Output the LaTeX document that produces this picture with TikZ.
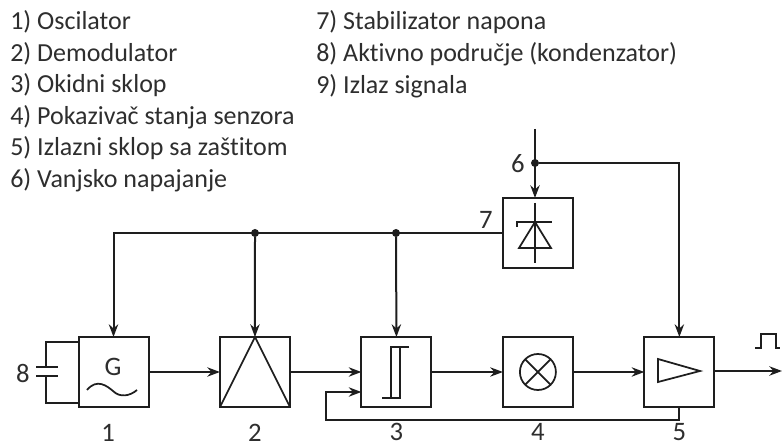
\documentclass[tikz,border=0pt]{standalone}
\usepackage{fontspec}
\setmainfont[Ligatures=NoCommon]{Carlito}
\usepackage{xcolor}
\usetikzlibrary{arrows.meta, positioning, calc}
\definecolor{ink}{HTML}{1E1E1E}
\definecolor{txt}{HTML}{2E2E2E}
\tikzset{
  block/.style={rectangle, draw=ink, line width=1.5pt, fill=white, minimum size=52.5pt, inner sep=0pt, outer sep=0pt},
  legend/.style={anchor=west, inner sep=0pt, text=txt, font=\fontsize{19.5pt}{20pt}\selectfont},
  num/.style={inner sep=0pt, text=txt, font=\fontsize{20pt}{21pt}\selectfont},
  dot/.style={circle, fill=ink, minimum size=6pt, inner sep=0pt, outer sep=0pt},
  wire/.style={draw=ink, line width=1.5pt},
  sym/.style={draw=ink, line width=1.3pt},
  arrow/.style={wire, -{Stealth[length=9.5pt, width=7pt]}}
}
\begin{document}
\begin{tikzpicture}[x=0.75pt, y=-0.75pt, node distance=31.6*0.75pt and 53.6pt]
  \useasboundingbox[fill=white] (0,0) rectangle (782,445);
  % legend
  \node[legend] (l1) at (10,22) {1) Oscilator};
  \node[legend] (l2) at (10,53.5) {2) Demodulator};
  \node[legend] (l3) at (10,85) {3) Okidni sklop};
  \node[legend] (l4) at (10,117) {4) Pokazivač stanja senzora};
  \node[legend] (l5) at (10,148.5) {5) Izlazni sklop sa zaštitom};
  \node[legend] (l6) at (10,180) {6) Vanjsko napajanje};
  \node[legend] (l7) at (316,22) {7) Stabilizator napona};
  \node[legend] (l8) at (316,54) {8) Aktivno područje (kondenzator)};
  \node[legend] (l9) at (316,86) {9) Izlaz signala};

  % blocks
  \node[block] (osc) at (113.5,372) {};
  \node[block, right=of osc] (demod) {};
  \node[block, right=of demod] (trig) {};
  \node[block, right=of trig] (ind) {};
  \node[block, right=of ind] (outp) {};
  \node[block] (stab) at (538,233) {};

  \node[num, below=12.5pt of osc, xshift=-4pt] (n1) {1};
  \node[num, below=12.5pt of demod] (n2) {2};
  \node[num, below=12pt of trig] (n3) {3};
  \node[num, below=12pt of ind] (n4) {4};
  \node[num, below=12pt of outp] (n5) {5};
  \node[num] (n6) at (518,164) {6};
  \node[num] (n7) at (486,220) {7};
  \node[num] (n8) at (23,373) {8};

  % power rail
  \coordinate (in6) at (535,129);
  \node[dot] (d6) at (535,163) {};
  \node[dot] (d2) at (255,233) {};
  \node[dot] (d3) at (396,233) {};
  \draw[arrow] (in6) -- (in6 |- stab.north);
  \draw[arrow] (d6) -| (outp.north);
  \draw[arrow] (stab.west) -| (osc.north);
  \draw[arrow] (d2) -- (demod.north);
  \draw[arrow] (d3) -- (trig.north);

  % signal path
  \coordinate (in3b) at ($(trig.west)+(0,-15pt)$);
  \coordinate (fb) at (326,420);
  \coordinate (sig) at (782,371);
  \draw[arrow] (osc) -- (demod);
  \draw[arrow] (demod) -- (trig);
  \draw[arrow] (trig) -- (ind);
  \draw[arrow] (ind) -- (outp);
  \draw[arrow] (outp.east |- sig) -- (sig);
  \draw[arrow] (outp.south) |- (fb) |- (in3b);

  % capacitor
  \coordinate (c1) at (46,367);
  \coordinate (c2) at (46,376);
  \draw[wire] (osc.west |- 0,342) -| (c1);
  \draw[wire] (osc.west |- 0,403) -| (c2);
  \draw[wire] (36,367) -- (58,367);
  \draw[wire] (36,376) -- (58,376);

  % symbols
  \node[inner sep=0pt, text=txt, font=\fontsize{20pt}{21pt}\selectfont] (g) at (113,367) {G};
  \draw[sym] (87,390) .. controls (97,378) and (107,386) .. (113,391) .. controls (120,398) and (130,396) .. (137,390);
  \draw[sym] (demod.south west) -- (demod.north) -- (demod.south east);
  \draw[sym] (409,347) -- (391,347) -- (391,398);
  \draw[sym] (382,398) -- (400,398) -- (400,347);
  \node[circle, draw=ink, line width=1.3pt, minimum size=27pt, inner sep=0pt, outer sep=0pt] (lamp) at (ind) {};
  \draw[sym] (lamp.north west) -- (lamp.south east);
  \draw[sym] (lamp.north east) -- (lamp.south west);
  \draw[sym] (658,359) -- (700,371) -- (658,382) -- cycle;
  \draw[sym] (535,203) -- (535,263);
  \draw[sym] (517,227) -- (517,222) -- (552,222);
  \draw[sym] (535,222) -- (519,248) -- (551,248) -- cycle;
  \node[dot, minimum size=3pt] (dk) at (535,224) {};
  \draw[sym] (755,348) -- (761,348) -- (761,334) -- (776,334) -- (776,348) -- (780,348);
\end{tikzpicture}
\end{document}
